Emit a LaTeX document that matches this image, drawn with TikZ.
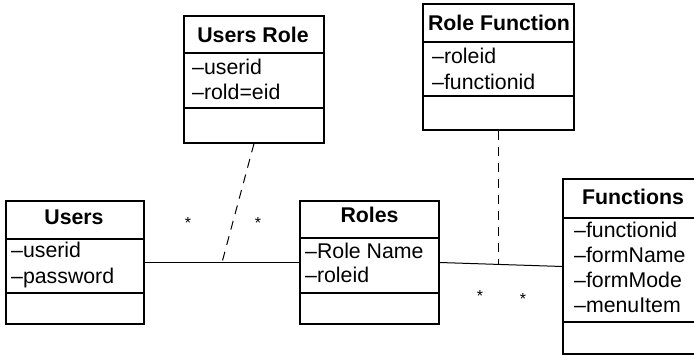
\documentclass[tikz,border=0pt]{standalone}
\usepackage{fontspec}
\setmainfont{Liberation Sans}
\usetikzlibrary{calc,intersections}
\tikzset{
  umlbox/.style={draw, line width=1.2pt, inner sep=0pt, fill=none},
  divider/.style={line width=1.6pt},
  head/.style={anchor=base, inner sep=0pt, font=\fontsize{21.3}{25}\selectfont\bfseries},
  attr/.style={anchor=base west, inner sep=0pt, font=\fontsize{21.3}{25}\selectfont},
  mult/.style={anchor=base, inner sep=0pt, font=\fontsize{16}{18}\selectfont},
  assoc/.style={line width=1pt},
  dashlink/.style={line width=1pt, dash pattern=on 9pt off 7pt}
}
\begin{document}
\begin{tikzpicture}[x=1pt,y=-1pt]
\clip (0,0) rectangle (694,355);
\fill[white] (0,0) rectangle (694,355);

% Users Role
\node[umlbox, minimum width=140pt, minimum height=127pt] (usersrole) at (254,79.5) {};
\draw[divider] (184,53) -- (324,53);
\draw[divider] (184,108) -- (324,108);
\node[head] (urh) at (253,43) {Users Role};
\node[attr] (ura1) at (192,75) {–userid};
\node[attr] (ura2) at (192,100) {–rold=eid};

% Role Function
\node[umlbox, minimum width=151pt, minimum height=126pt] (rolefunction) at (498.5,67) {};
\draw[divider] (423,42) -- (574,42);
\draw[divider] (423,96) -- (574,96);
\node[head] (rfh) at (499,30.5) {Role Function};
\node[attr] (rfa1) at (432,64) {–roleid};
\node[attr] (rfa2) at (432,90) {–functionid};

% Users
\node[umlbox, minimum width=138pt, minimum height=123pt] (users) at (75,262.5) {};
\draw[divider] (6,239) -- (144,239);
\draw[divider] (6,293) -- (144,293);
\node[head] (uh) at (74,225) {Users};
\node[attr] (ua1) at (11,258) {–userid};
\node[attr] (ua2) at (11,284) {–password};

% Roles
\node[umlbox, minimum width=139pt, minimum height=123pt] (roles) at (369.5,262.5) {};
\draw[divider] (300,238) -- (439,238);
\draw[divider] (300,293) -- (439,293);
\node[head] (rh) at (369.5,223) {Roles};
\node[attr] (ra1) at (305,259) {–Role Name};
\node[attr] (ra2) at (305,283) {–roleid};

% Functions
\node[umlbox, minimum width=135pt, minimum height=175pt] (functions) at (630.5,266.5) {};
\draw[divider] (563,218) -- (698,218);
\draw[divider] (563,322) -- (698,322);
\node[head] (fh) at (633,205) {Functions};
\node[attr] (fa1) at (574,238) {–functionid};
\node[attr] (fa2) at (574,263) {–formName};
\node[attr] (fa3) at (574,288) {–formMode};
\node[attr] (fa4) at (574,313) {–menuItem};

% associations
\draw[assoc, name path=rl] (roles.east) -- (functions.west);
\draw[assoc] (users.east) -- (roles.west);
\coordinate (j1) at ($(users.east)!0.5!(roles.west)$);
\path[name path=rf] (rolefunction.south) -- ++(0,200);
\path[name intersections={of=rf and rl, by=j2}];
\draw[dashlink] (usersrole.south) -- (j1);
\draw[dashlink] (rolefunction.south) -- (j2);

% multiplicities
\node[mult] (m1) at (188,229) {*};
\node[mult] (m2) at (258,229) {*};
\node[mult] (m3) at (480,302) {*};
\node[mult] (m4) at (523,305) {*};
\end{tikzpicture}
\end{document}
